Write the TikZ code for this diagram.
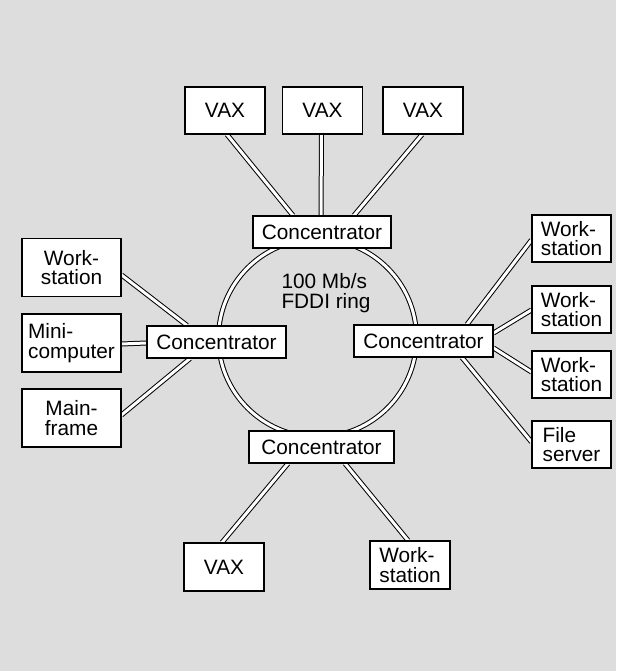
\documentclass[tikz,border=0pt]{standalone}
\usepackage{fontspec}
\setmainfont{Liberation Sans}
\usetikzlibrary{backgrounds}
\definecolor{bgc}{RGB}{221,221,221}
\tikzset{
  x=1pt,y=1pt,
  box/.style={draw=black,fill=white,line width=1.1pt,inner sep=0pt,
    font=\fontsize{20.8}{19.5}\selectfont},
  conc/.style={box,minimum width=139,minimum height=32},
  small/.style={box,minimum width=80,minimum height=47},
  wide/.style={box,minimum width=99,minimum height=58},
  cable/.style={draw=black,line width=1pt,double=white,double distance=3pt},
}
\begin{document}
\begin{tikzpicture}
\useasboundingbox (0,0) rectangle (616,671);
% top
\node[small] (vaxA) at (225,560.5) {VAX};
\node[small] (vaxB) at (322.5,560.5) {VAX};
\node[small] (vaxC) at (423,560.5) {VAX};
\node[conc,minimum width=138] (cTop) at (322,439) {Concentrator};
% left
\node[wide,align=center] (wsL) at (71.5,403.5) {Work-\\station};
\node[wide,align=left] (mini) at (71.5,328) {Mini-\\computer};
\node[wide,align=center] (mainf) at (71.5,253) {Main-\\frame};
\node[conc] (cLeft) at (216.5,329) {Concentrator};
% right
\node[conc] (cRight) at (423.5,330) {Concentrator};
\node[small,minimum width=79,align=left] (wsR1) at (571.5,432.5) {Work-\\station};
\node[small,minimum width=79,align=left] (wsR2) at (571.5,361.5) {Work-\\station};
\node[small,minimum width=79,align=left] (wsR3) at (571.5,296.5) {Work-\\station};
\node[small,minimum width=79,align=left] (fs) at (571.5,226.5) {File\\server};
% bottom
\node[conc,minimum width=145] (cBot) at (321.5,224) {Concentrator};
\node[small,minimum height=48] (vaxD) at (224,104) {VAX};
\node[small,minimum height=48,align=left] (wsD) at (410,106) {Work-\\station};
% ring label
\node[align=left,inner sep=0pt,font=\fontsize{20.8}{19.5}\selectfont] (lbl) at (326,378) {100 Mb/s\\FDDI ring};
\coordinate (ringc) at (317.5,333);
\begin{pgfonlayer}{background}
\fill[bgc] (0,0) rectangle (616,671);
\draw[cable] (ringc) circle[radius=99];
\draw[cable] ([xshift=2]vaxA.south) -- ([xshift=-29]cTop.north);
\draw[cable] ([xshift=-1]vaxB.south) -- ([xshift=-1]cTop.north);
\draw[cable] ([xshift=-1]vaxC.south) -- ([xshift=32]cTop.north);
\draw[cable] ([yshift=-7.5]wsL.east) -- ([xshift=-29.5]cLeft.north);
\draw[cable] ([yshift=-1]mini.east) -- ([yshift=-1]cLeft.west);
\draw[cable] ([yshift=3]mainf.east) -- ([xshift=-26.5]cLeft.south);
\draw[cable] ([yshift=-1.5]wsR1.west) -- ([xshift=43.5]cRight.north);
\draw[cable] ([yshift=-0.5]wsR2.west) -- ([yshift=8]cRight.east);
\draw[cable] ([yshift=2.5]wsR3.west) -- ([yshift=-7]cRight.east);
\draw[cable] ([yshift=2.5]fs.west) -- ([xshift=38.5]cRight.south);
\draw[cable] ([xshift=-33.5]cBot.south) -- ([xshift=-2]vaxD.north);
\draw[cable] ([xshift=23.5]cBot.south) -- ([xshift=-2]wsD.north);
\end{pgfonlayer}
\end{tikzpicture}
\end{document}
